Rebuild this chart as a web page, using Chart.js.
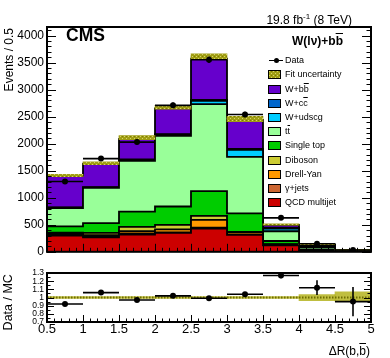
<!DOCTYPE html>
<html>
<head>
<meta charset="utf-8">
<script src="https://cdn.jsdelivr.net/npm/chart.js@4.4.0/dist/chart.umd.min.js"></script>
<style>
  html, body { margin: 0; padding: 0; background: #fff; }
  #wrap { position: relative; width: 390px; height: 358px; overflow: hidden; font-family: "Liberation Sans", Arial, sans-serif; color: #000; }
  canvas { position: absolute; left: 0; }
  #main { top: 0; }
  #ratio { top: 262px; }
  .txt { position: absolute; white-space: nowrap; line-height: 1; }
  .ob { text-decoration: overline; }
  .lbox { position: absolute; width: 13px; height: 9px; border: 1px solid #000; box-sizing: border-box; }
  .ltxt { position: absolute; font-size: 9px; line-height: 10px; white-space: nowrap; }
</style>
</head>
<body>
<div id="wrap">
  <canvas id="main" width="390" height="262"></canvas>
  <canvas id="ratio" width="390" height="96"></canvas>
  <div class="txt" style="right:38px; top:13px; font-size:12px;">19.8 fb<sup style="font-size:8px; vertical-align:5px;">-1</sup> (8 TeV)</div>
  <div class="txt" style="left:66px; top:27px; font-size:17.5px; font-weight:bold;">CMS</div>
  <div class="txt" style="right:47px; top:35px; font-size:12px; font-weight:bold;">W(lν)+b<span class="ob">b</span></div>
  <div class="txt" style="left:-61px; top:92px; width:140px; text-align:right; font-size:12px; transform:rotate(-90deg);">Events / 0.5</div>
  <div class="txt" style="left:-42px; top:296px; width:100px; text-align:center; font-size:12.5px; transform:rotate(-90deg);">Data / MC</div>
  <div class="txt" style="right:20px; top:345px; font-size:12px;">ΔR(b,<span class="ob">b</span>)</div>
  <div id="legend"></div>
</div>
<script>
// bin edges along ΔR(b,b̄)
var binEdges = [0.5, 1.0, 1.5, 2.0, 2.5, 3.0, 3.5, 4.0, 4.5, 5.0];
var yTicks = [0, 500, 1000, 1500, 2000, 2500, 3000, 3500, 4000];
var ratioTicks = [0.7, 0.8, 0.9, 1.0, 1.1, 1.2, 1.3];

// stacked MC components, events / 0.5 (bottom of the stack first)
var qcd       = [300, 266, 320, 350, 430, 315, 120, 20, 3];
var gammaJets = [25, 10, 15, 10, 15, 5, 5, 2, 0];
var drellYan  = [15, 32, 45, 56, 145, 45, 10, 5, 1];
var diboson   = [15, 42, 80, 84, 75, 5, 5, 3, 1];
var singleTop = [115, 181, 282, 338, 457, 341, 60, 15, 4];
var ttbar     = [338, 651, 941, 1310, 1611, 1044, 180, 40, 8];
var wudscg    = [10, 10, 15, 20, 60, 130, 50, 20, 8];
var wcc       = [5, 5, 10, 10, 20, 21, 15, 5, 3];
var wbb       = [587, 433, 382, 477, 760, 534, 55, 25, 8];

// fit uncertainty band around the MC sum
var fitLo = [1390, 1612, 2075, 2640, 3555, 2410, 495, 132, 34];
var fitHi = [1435, 1665, 2150, 2712, 3665, 2505, 518, 142, 39];

// data
var data    = [1300, 1725, 2030, 2710, 3555, 2540, 628, 150, 34];
var dataErr = [36, 42, 45, 52, 60, 50, 25, 12, 6];

// ratio panel
var ratio       = [0.92, 1.06, 0.97, 1.02, 0.99, 1.04, 1.27, 1.12, 0.95];
var ratioErr    = [0.015, 0.015, 0.015, 0.015, 0.012, 0.015, 0.035, 0.09, 0.18];
var ratioBandLo = [0.99, 0.99, 0.99, 0.99, 0.99, 0.99, 0.99, 0.96, 0.955];
var ratioBandHi = [1.01, 1.01, 1.01, 1.01, 1.01, 1.01, 1.01, 1.035, 1.07];

var FONT = '"Liberation Sans", Arial, sans-serif';
Chart.defaults.font.family = FONT;
Chart.defaults.color = '#000';

var centers = binEdges.slice(0, -1).map(function (e, i) { return (e + binEdges[i + 1]) / 2; });

// hatch for the fit uncertainty
var hatch = document.createElement('canvas');
hatch.width = 4; hatch.height = 4;
(function () {
    var g = hatch.getContext('2d');
    g.fillStyle = '#a09e14'; g.fillRect(0, 0, 4, 4);
    g.fillStyle = '#d6d46a'; g.fillRect(0, 0, 1, 1); g.fillRect(2, 2, 1, 1);
    g.fillStyle = '#7d7b00'; g.fillRect(2, 0, 1, 1);
})();
var hatchPattern = hatch.getContext('2d').createPattern(hatch, 'repeat');

// frame + root style inward ticks
var rootFrame = {
    id: 'rootFrame',
    afterDatasetsDraw: function (chart, args, o) {
        var ctx = chart.ctx, a = chart.chartArea, xs = chart.scales.x, ys = chart.scales.y;
        ctx.save();
        ctx.strokeStyle = '#000';
        ctx.lineWidth = 1;
        ctx.beginPath();
        var nx = Math.floor((xs.max - xs.min) / o.xMinor + 1e-6);
        for (var i = 0; i <= nx; i++) {
            var v = xs.min + i * o.xMinor;
            var major = Math.abs(v / o.xMajor - Math.round(v / o.xMajor)) < 1e-6;
            var px = Math.round(xs.getPixelForValue(v)) + 0.5;
            ctx.moveTo(px, a.bottom);
            ctx.lineTo(px, a.bottom - (major ? o.xLen[0] : o.xLen[1]));
        }
        var ny = Math.floor((ys.max - ys.min) / o.yMinor + 1e-6);
        for (var j = 0; j <= ny; j++) {
            var w = ys.min + j * o.yMinor;
            var maj = Math.abs(w / o.yMajor - Math.round(w / o.yMajor)) < 1e-6;
            var py = Math.round(ys.getPixelForValue(w)) + 0.5;
            var len = maj ? o.yLen[0] : o.yLen[1];
            ctx.moveTo(a.left, py); ctx.lineTo(a.left + len, py);
            ctx.moveTo(a.right, py); ctx.lineTo(a.right - len, py);
        }
        ctx.stroke();
        ctx.lineWidth = 2;
        ctx.strokeRect(a.left, a.top, a.right - a.left, a.bottom - a.top);
        ctx.restore();
    }
};

function errorBars(values, errs) {
    var h = [], v = [];
    values.forEach(function (val, i) {
        h.push({ x: binEdges[i], y: val }, { x: binEdges[i + 1], y: val }, { x: binEdges[i + 1], y: null });
        v.push({ x: centers[i], y: val - errs[i] }, { x: centers[i], y: val + errs[i] }, { x: centers[i], y: null });
    });
    return [h, v];
}

function lineSet(pts, order) {
    return { type: 'line', data: pts, borderColor: '#000', borderWidth: 1.6, pointRadius: 0, fill: false, order: order };
}

function fixedTicks(list) {
    return function (s) { s.ticks = list.map(function (v) { return { value: v }; }); };
}

// ---- main panel ----
var components = [
    { label: 'QCD multijet', values: qcd, color: '#cc0000' },
    { label: 'γ+jets', values: gammaJets, color: '#cc6633' },
    { label: 'Drell-Yan', values: drellYan, color: '#ff9900' },
    { label: 'Diboson', values: diboson, color: '#cccc33' },
    { label: 'Single top', values: singleTop, color: '#00cc00' },
    { label: 'tt', values: ttbar, color: '#99ff99' },
    { label: 'W+udscg', values: wudscg, color: '#00ccff' },
    { label: 'W+cc', values: wcc, color: '#0066cc' },
    { label: 'W+bb', values: wbb, color: '#6600cc' }
];

var cum = centers.map(function () { return 0; });
var mainSets = components.map(function (c, k) {
    cum = cum.map(function (v, i) { return v + c.values[i]; });
    var pts = binEdges.map(function (e, i) { return { x: e, y: cum[Math.max(i - 1, 0)] }; });
    return {
        type: 'line', data: pts, stepped: 'after', fill: 'origin',
        backgroundColor: c.color, borderColor: '#000', borderWidth: 1.8,
        pointRadius: 0, order: 2 + k
    };
});

mainSets.push({
    type: 'bar',
    data: centers.map(function (c, i) { return { x: c, y: [fitLo[i], fitHi[i]] }; }),
    backgroundColor: hatchPattern, borderWidth: 0,
    barPercentage: 1, categoryPercentage: 1, grouped: false, order: 1
});

var mainErr = errorBars(data, dataErr);
mainSets.push(lineSet(mainErr[0], 0), lineSet(mainErr[1], 0));
mainSets.push({
    type: 'line', showLine: false, order: 0,
    data: centers.map(function (c, i) { return { x: c, y: data[i] }; }),
    pointRadius: 3, pointBackgroundColor: '#000', pointBorderWidth: 0
});

new Chart(document.getElementById('main'), {
    type: 'line',
    data: { datasets: mainSets },
    options: {
        responsive: false, animation: false, devicePixelRatio: 1,
        layout: { padding: { top: 27, right: 19, left: 0, bottom: 0 } },
        plugins: {
            legend: { display: false }, tooltip: { enabled: false },
            rootFrame: { xMajor: 0.5, xMinor: 0.1, xLen: [8, 4], yMajor: 500, yMinor: 100, yLen: [9, 4.5] }
        },
        scales: {
            x: {
                type: 'linear', min: 0.5, max: 5, offset: false,
                grid: { display: false, drawTicks: false }, border: { display: false },
                ticks: { display: false },
                afterFit: function (s) { s.height = 5; }
            },
            y: {
                type: 'linear', min: 0, max: 4160,
                grid: { display: false, drawTicks: false }, border: { display: false },
                afterBuildTicks: fixedTicks(yTicks),
                ticks: {
                    autoSkip: false, padding: 3, font: { size: 12 }, color: '#000',
                    callback: function (v) { return String(v); }
                },
                afterFit: function (s) { s.width = 47; }
            }
        }
    },
    plugins: [rootFrame]
});

// ---- ratio panel ----
var ratioSets = [];
ratioSets.push({
    type: 'bar',
    data: centers.map(function (c, i) { return { x: c, y: [ratioBandLo[i], ratioBandHi[i]] }; }),
    backgroundColor: 'rgba(170,168,0,0.75)', borderWidth: 0,
    barPercentage: 1, categoryPercentage: 1, grouped: false, order: 3
});
ratioSets.push({
    type: 'line', order: 2, pointRadius: 0,
    data: [{ x: binEdges[0], y: 1 }, { x: binEdges[binEdges.length - 1], y: 1 }],
    borderColor: '#6e6c00', borderWidth: 2, borderDash: [1.5, 1.5]
});
var rErr = errorBars(ratio, ratioErr);
ratioSets.push(lineSet(rErr[0], 0), lineSet(rErr[1], 0));
ratioSets.push({
    type: 'line', showLine: false, order: 0,
    data: centers.map(function (c, i) { return { x: c, y: ratio[i] }; }),
    pointRadius: 3, pointBackgroundColor: '#000', pointBorderWidth: 0
});

new Chart(document.getElementById('ratio'), {
    type: 'line',
    data: { datasets: ratioSets },
    options: {
        responsive: false, animation: false, devicePixelRatio: 1,
        layout: { padding: { top: 11, right: 19, left: 0, bottom: 0 } },
        plugins: {
            legend: { display: false }, tooltip: { enabled: false },
            rootFrame: { xMajor: 0.5, xMinor: 0.1, xLen: [7, 3.5], yMajor: 0.1, yMinor: 0.05, yLen: [7, 3.5] }
        },
        scales: {
            x: {
                type: 'linear', min: 0.5, max: 5, offset: false,
                grid: { display: false, drawTicks: false }, border: { display: false },
                afterBuildTicks: fixedTicks(binEdges),
                ticks: {
                    autoSkip: false, maxRotation: 0, padding: 0, font: { size: 13 }, color: '#000',
                    callback: function (v) { return String(+v.toFixed(1)); }
                },
                afterFit: function (s) { s.height = 36; }
            },
            y: {
                type: 'linear', min: 0.7, max: 1.3,
                grid: { display: false, drawTicks: false }, border: { display: false },
                afterBuildTicks: fixedTicks(ratioTicks),
                ticks: {
                    autoSkip: false, padding: 3, font: { size: 8.5 }, color: '#000',
                    callback: function (v) { return String(+v.toFixed(1)); }
                },
                afterFit: function (s) { s.width = 47; }
            }
        }
    },
    plugins: [rootFrame]
});

// ---- legend ----
var legendRows = [
    { html: 'Data', kind: 'data' },
    { html: 'Fit uncertainty', kind: 'fit' },
    { html: 'W+b<span class="ob">b</span>', color: '#6600cc' },
    { html: 'W+c<span class="ob">c</span>', color: '#0066cc' },
    { html: 'W+udscg', color: '#00ccff' },
    { html: 't<span class="ob">t</span>', color: '#99ff99' },
    { html: 'Single top', color: '#00cc00' },
    { html: 'Diboson', color: '#cccc33' },
    { html: 'Drell-Yan', color: '#ff9900' },
    { html: 'γ+jets', color: '#cc6633' },
    { html: 'QCD multijet', color: '#cc0000' }
];
var legend = document.getElementById('legend');
var hatchUrl = hatch.toDataURL();
legendRows.forEach(function (r, i) {
    var yc = 60.7 + i * 14.19;
    if (r.kind === 'data') {
        var ln = document.createElement('div');
        ln.style.cssText = 'position:absolute;left:269px;width:14px;height:1.5px;background:#000;top:' + (yc - 0.75) + 'px';
        var dot = document.createElement('div');
        dot.style.cssText = 'position:absolute;left:273.5px;width:5.5px;height:5.5px;border-radius:50%;background:#000;top:' + (yc - 2.75) + 'px';
        legend.appendChild(ln); legend.appendChild(dot);
    } else {
        var b = document.createElement('div');
        b.className = 'lbox';
        b.style.left = '268px';
        b.style.top = (yc - 4.5) + 'px';
        if (r.kind === 'fit') b.style.background = 'url(' + hatchUrl + ')';
        else b.style.background = r.color;
        legend.appendChild(b);
    }
    var t = document.createElement('div');
    t.className = 'ltxt';
    t.style.left = '285px';
    t.style.top = (yc - 5.4) + 'px';
    t.innerHTML = r.html;
    legend.appendChild(t);
});
</script>
</body>
</html>
